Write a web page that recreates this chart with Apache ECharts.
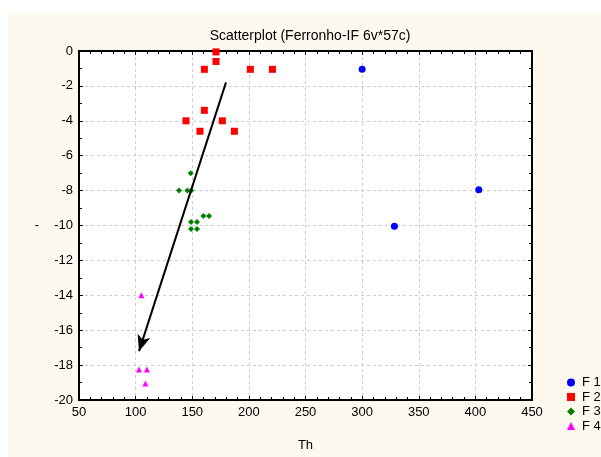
<!DOCTYPE html>
<html>
<head>
<meta charset="utf-8">
<script src="https://cdn.jsdelivr.net/npm/echarts@6/dist/echarts.min.js"></script>
<style>html,body{margin:0;padding:0;background:#fff}#c{width:601px;height:457px}</style>
</head>
<body>
<div id="c"></div>
<script>
const titleText = 'Scatterplot (Ferronho-IF 6v*57c)';
const xName = 'Th';
const yName = '-';
const seriesNames = ['F 1', 'F 2', 'F 3', 'F 4'];
const f1 = [[300, -1.05], [403, -7.95], [328.5, -10.05]];
const f2 = [[171, -0.05], [171, -0.6], [160.7, -1.05], [201.3, -1.05], [220.8, -1.05],
            [160.7, -3.4], [144.5, -4.0], [176.6, -4.0], [156.8, -4.6], [187.2, -4.6]];
const f3 = [[148.6, -7.0], [138.3, -8.0], [145.7, -8.0], [149.2, -8.0],
            [159.8, -9.45], [164.8, -9.45], [148.9, -9.8], [154.2, -9.8],
            [148.9, -10.2], [154.2, -10.2]];
const f4 = [[105.1, -14.0], [103, -18.25], [110, -18.25], [108.6, -19.05]];
const arrowFrom = [179.8, -1.8];
const arrowTo = [103, -17.2];

const font = 'Liberation Sans, Arial, sans-serif';
const chart = echarts.init(document.getElementById('c'), null, {renderer: 'canvas'});
const grid = {left: 79, right: 69, top: 51, bottom: 47, show: true, backgroundColor: '#ffffff', borderColor: '#000', borderWidth: 2, containLabel: false};
const tickCommon = {show: true, inside: true, length: 4, lineStyle: {color: '#000', width: 1}};
const minorCommon = {show: true, length: 3, lineStyle: {color: '#000', width: 1}};
function xa(pos, main) {
  return {
    type: 'value', position: pos, min: 50, max: 450, interval: 50,
    name: main ? xName : '', nameLocation: 'middle', nameGap: 39,
    nameTextStyle: {fontFamily: font, fontSize: 13, color: '#000'},
    axisLine: {show: true, onZero: false, lineStyle: {color: '#000', width: 2}},
    axisTick: tickCommon, minorTick: Object.assign({splitNumber: 5}, minorCommon),
    axisLabel: {show: main, fontFamily: font, fontSize: 13, color: '#000', margin: 6},
    splitLine: {show: main, lineStyle: {color: '#cccccc', type: [3, 3], width: 1}},
    minorSplitLine: {show: false}
  };
}
function ya(pos, main) {
  return {
    type: 'value', position: pos, min: -20, max: 0, interval: 2,
    name: main ? yName : '', nameLocation: 'middle', nameGap: 40, nameRotate: 0,
    nameTextStyle: {fontFamily: font, fontSize: 13, color: '#000'},
    axisLine: {show: true, onZero: false, lineStyle: {color: '#000', width: 2}},
    axisTick: tickCommon, minorTick: Object.assign({splitNumber: 2}, minorCommon),
    axisLabel: {show: main, fontFamily: font, fontSize: 13, color: '#000', margin: 6},
    splitLine: {show: main, lineStyle: {color: '#cccccc', type: [3, 3], width: 1}},
    minorSplitLine: {show: false}
  };
}
const option = {
  animation: false,
  backgroundColor: '#ffffff',
  graphic: [{type: 'rect', z: -100, shape: {x: 8, y: 13, width: 593, height: 444}, style: {fill: '#fef9ee'}, silent: true}],
  title: {text: titleText, left: 305, top: 24, textAlign: 'center',
    textStyle: {fontFamily: font, fontSize: 14, fontWeight: 'normal', color: '#000'}},
  grid: grid,
  xAxis: [xa('bottom', true), xa('top', false)],
  yAxis: [ya('left', true), ya('right', false)],
  legend: {
    orient: 'vertical', left: 562, top: 371, itemWidth: 8, itemHeight: 8, itemGap: 1.5,
    textStyle: {fontFamily: font, fontSize: 13, color: '#000', padding: [0, 0, 0, 2]},
    data: seriesNames.map((n, i) => ({name: n, icon: ['circle', 'rect', 'diamond', 'triangle'][i]}))
  },
  series: [
    {name: seriesNames[0], type: 'scatter', data: f1, symbol: 'circle', symbolSize: 7, itemStyle: {color: '#0000ff', opacity: 1}, z: 3},
    {name: seriesNames[1], type: 'scatter', data: f2, symbol: 'rect', symbolSize: 7, itemStyle: {color: '#ff0000', opacity: 1}, z: 3},
    {name: seriesNames[2], type: 'scatter', data: f3, symbol: 'diamond', symbolSize: 6, itemStyle: {color: '#008000', opacity: 1}, z: 3},
    {name: seriesNames[3], type: 'scatter', data: f4, symbol: 'triangle', symbolSize: 6, itemStyle: {color: '#ff00ff', opacity: 1}, z: 3,
      markLine: {silent: true, symbol: ['none', 'arrow'], symbolSize: [10, 16], label: {show: false},
        lineStyle: {color: '#000', width: 2, type: 'solid', opacity: 1}, emphasis: {disabled: true},
        data: [[{coord: arrowFrom}, {coord: arrowTo}]]}}
  ]
};
chart.setOption(option);
</script>
</body>
</html>
